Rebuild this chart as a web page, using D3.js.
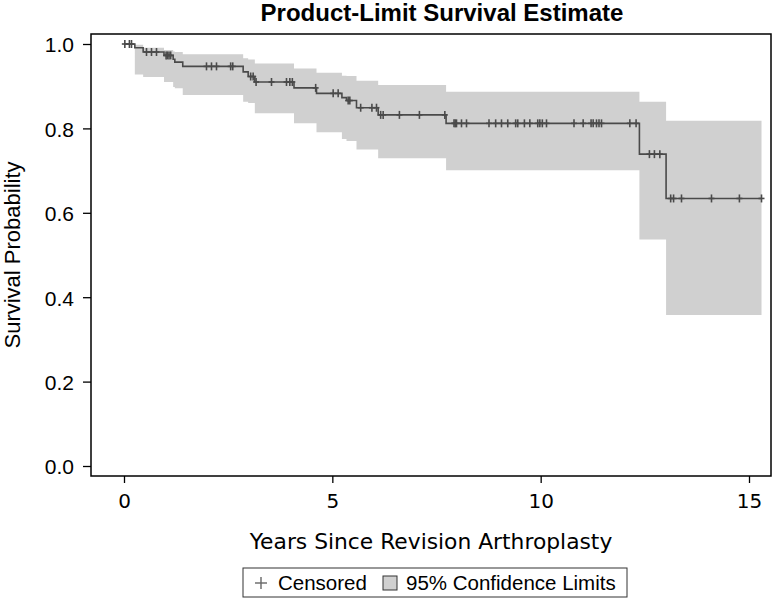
<!DOCTYPE html>
<html>
<head>
<meta charset="utf-8">
<script src="https://cdn.jsdelivr.net/npm/d3@7"></script>
<style>
  html, body { margin: 0; padding: 0; background: #fff; }
  svg { display: block; }
</style>
</head>
<body>
<svg id="chart" width="774" height="600"></svg>
<script>
// ---- Data ----
const eventTimes = [0.26, 0.46, 0.96, 1.18, 1.22, 1.41, 2.86, 2.98, 3.14, 4.08, 4.62, 5.23, 5.34, 5.58, 6.10, 7.73, 12.37, 13.01];
const survival   = [0.991, 0.981, 0.973, 0.964, 0.957, 0.947, 0.934, 0.923, 0.910, 0.896, 0.883, 0.873, 0.866, 0.849, 0.832, 0.812, 0.739, 0.634];
const lowerCL    = [0.928, 0.922, 0.910, 0.898, 0.895, 0.879, 0.863, 0.860, 0.836, 0.812, 0.791, 0.775, 0.770, 0.750, 0.729, 0.701, 0.537, 0.358];
const upperCL    = [0.998, 0.991, 0.986, 0.982, 0.981, 0.976, 0.966, 0.963, 0.954, 0.942, 0.932, 0.925, 0.924, 0.913, 0.903, 0.887, 0.863, 0.818];
const endTime = 15.30;
const censorTimes = [
  0.02, 0.13, 0.18,
  0.54, 0.66, 0.78,
  1.01, 1.04, 1.08, 1.12,
  1.98, 2.10, 2.22, 2.56, 2.61,
  3.04, 3.10,
  3.17, 3.54, 3.90, 3.98, 4.04,
  4.60,
  5.02, 5.14,
  5.38, 5.42,
  5.68, 5.95, 6.06,
  6.16, 6.22, 6.61, 7.09, 7.70,
  7.92, 7.95, 7.98, 8.10, 8.22, 8.76, 8.92, 9.06, 9.21, 9.40, 9.45, 9.61, 9.74, 9.93, 9.98, 10.04, 10.14,
  10.80, 11.02, 11.21, 11.26, 11.34, 11.40, 11.46, 12.14, 12.29,
  12.61, 12.73, 12.86,
  13.12, 13.19, 13.38, 14.10, 14.77, 15.30
];
const xTicks = [0, 5, 10, 15];
const yTicks = [0, 0.2, 0.4, 0.6, 0.8, 1.0];
const titleText = "Product-Limit Survival Estimate";
const xLabel = "Years Since Revision Arthroplasty";
const yLabel = "Survival Probability";
const legendLabels = ["Censored", "95% Confidence Limits"];

// ---- Layout ----
const frame = { left: 91, right: 771, top: 34, bottom: 476 };
const x = d3.scaleLinear().domain([0, 15]).range([124, 749]);
const y = d3.scaleLinear().domain([0, 1]).range([466, 44]);

const svg = d3.select("#chart");

// Confidence band
const bandPts = eventTimes.map((t, i) => ({ t, lo: lowerCL[i], hi: upperCL[i] }));
bandPts.push({ t: endTime, lo: lowerCL[lowerCL.length - 1], hi: upperCL[upperCL.length - 1] });
svg.append("path")
  .datum(bandPts)
  .attr("fill", "#d0d0d0")
  .attr("stroke", "none")
  .attr("d", d3.area().curve(d3.curveStepAfter)
    .x(d => x(d.t)).y0(d => y(d.lo)).y1(d => y(d.hi)));

// Survival step curve
const curvePts = [{ t: 0, s: 1 }].concat(eventTimes.map((t, i) => ({ t, s: survival[i] })));
curvePts.push({ t: endTime, s: survival[survival.length - 1] });
svg.append("path")
  .datum(curvePts)
  .attr("fill", "none")
  .attr("stroke", "#4a4a4a")
  .attr("stroke-width", 1.6)
  .attr("d", d3.line().curve(d3.curveStepAfter).x(d => x(d.t)).y(d => y(d.s)));

// Censored marks
function survAt(t) {
  const i = d3.bisectRight(eventTimes, t);
  return i === 0 ? 1 : survival[i - 1];
}
const cg = svg.append("g").attr("stroke", "#4a4a4a").attr("stroke-width", 1.6);
censorTimes.forEach(t => {
  const cx = x(t), cy = y(survAt(t));
  cg.append("line").attr("x1", cx).attr("x2", cx).attr("y1", cy - 4).attr("y2", cy + 4);
  cg.append("line").attr("x1", cx - 3).attr("x2", cx + 3).attr("y1", cy).attr("y2", cy);
});

// Frame
svg.append("rect")
  .attr("x", frame.left).attr("y", frame.top)
  .attr("width", frame.right - frame.left).attr("height", frame.bottom - frame.top)
  .attr("fill", "none").attr("stroke", "#000").attr("stroke-width", 1.5);

// Y axis
const yAxis = svg.append("g")
  .attr("transform", `translate(${frame.left},0)`)
  .call(d3.axisLeft(y).tickValues(yTicks).tickFormat(d3.format(".1f")).tickSize(8).tickSizeOuter(0));
yAxis.select(".domain").remove();
yAxis.selectAll("line").attr("stroke", "#000").attr("stroke-width", 1.3);
yAxis.selectAll("text")
  .attr("font-family", "'Liberation Sans', Arial, sans-serif")
  .attr("font-size", 21).attr("fill", "#000")
  .attr("x", -17).attr("dy", "0.38em");

// X axis
const xAxis = svg.append("g")
  .attr("transform", `translate(0,${frame.bottom})`)
  .call(d3.axisBottom(x).tickValues(xTicks).tickFormat(d3.format("d")).tickSize(7).tickSizeOuter(0));
xAxis.select(".domain").remove();
xAxis.selectAll("line").attr("stroke", "#000").attr("stroke-width", 1.3);
xAxis.selectAll("text")
  .attr("font-family", "'DejaVu Sans', Verdana, sans-serif")
  .attr("font-size", 20).attr("fill", "#000")
  .attr("y", 18).attr("dy", "0.71em");

// Title
svg.append("text")
  .attr("x", 442).attr("y", 21)
  .attr("text-anchor", "middle")
  .attr("font-family", "'Liberation Sans', Arial, sans-serif")
  .attr("font-weight", "bold").attr("font-size", 24)
  .text(titleText);

// Axis labels
svg.append("text")
  .attr("x", (frame.left + frame.right) / 2).attr("y", 549)
  .attr("text-anchor", "middle")
  .attr("font-family", "'DejaVu Sans', Verdana, sans-serif")
  .attr("font-size", 21.8)
  .text(xLabel);

svg.append("text")
  .attr("transform", `translate(20,${(frame.top + frame.bottom) / 2}) rotate(-90)`)
  .attr("text-anchor", "middle")
  .attr("font-family", "'Liberation Sans', Arial, sans-serif")
  .attr("font-size", 22)
  .text(yLabel);

// Legend
const lg = svg.append("g");
lg.append("rect").attr("x", 243).attr("y", 568).attr("width", 384).attr("height", 29)
  .attr("fill", "#fff").attr("stroke", "#333").attr("stroke-width", 1);
lg.append("line").attr("x1", 261).attr("x2", 261).attr("y1", 577).attr("y2", 589)
  .attr("stroke", "#666").attr("stroke-width", 1.4);
lg.append("line").attr("x1", 255).attr("x2", 267).attr("y1", 583).attr("y2", 583)
  .attr("stroke", "#666").attr("stroke-width", 1.4);
lg.append("text").attr("x", 278).attr("y", 590)
  .attr("font-family", "'Liberation Sans', Arial, sans-serif").attr("font-size", 20.5)
  .text(legendLabels[0]);
lg.append("rect").attr("x", 383).attr("y", 576).attr("width", 14).attr("height", 14)
  .attr("fill", "#d0d0d0").attr("stroke", "#333").attr("stroke-width", 1);
lg.append("text").attr("x", 406).attr("y", 590)
  .attr("font-family", "'Liberation Sans', Arial, sans-serif").attr("font-size", 20.5)
  .text(legendLabels[1]);
</script>
</body>
</html>
